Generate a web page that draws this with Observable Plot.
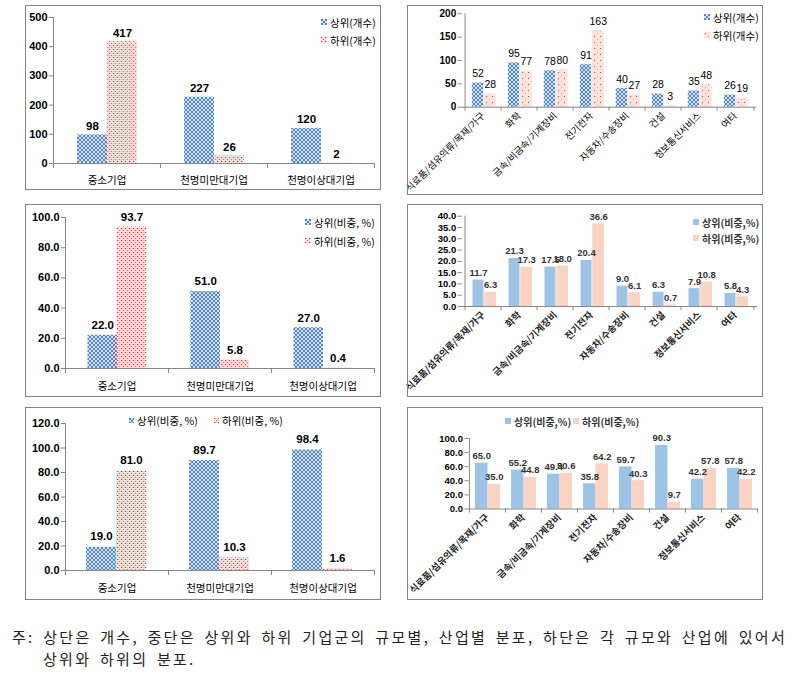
<!DOCTYPE html>
<html><head><meta charset="utf-8">
<script src="https://cdn.jsdelivr.net/npm/d3@7"></script>
<script src="https://cdn.jsdelivr.net/npm/@observablehq/plot@0.6"></script>
<style>
body{margin:0;background:#fff;}
#root{position:relative;width:803px;height:687px;overflow:hidden;font-family:"Liberation Sans","Noto Sans CJK KR",sans-serif;}
.frame{position:absolute;border:1.5px solid #838383;box-sizing:border-box;pointer-events:none;}
.panel{position:absolute;}
.lg{position:absolute;display:flex;align-items:center;height:16px;white-space:nowrap;font-family:"Noto Sans CJK KR",sans-serif;}
.lg svg{flex:none;}
.cap{position:absolute;font-family:"Noto Sans CJK KR",sans-serif;font-size:15px;color:#222;letter-spacing:2.3px;word-spacing:3px;white-space:nowrap;line-height:22px;}
</style></head>
<body>
<svg width="0" height="0" style="position:absolute">
<defs>
<pattern id="patBlue" width="4" height="4" patternUnits="userSpaceOnUse">
<rect width="4" height="4" fill="#D3E1F3"/>
<rect x="0" y="0" width="2" height="2" fill="#5286C4"/>
<rect x="2" y="2" width="2" height="2" fill="#5286C4"/>
</pattern>
<pattern id="patRed" width="4" height="4" patternUnits="userSpaceOnUse">
<rect width="4" height="4" fill="#FDE2DE"/>
<rect x="0" y="0" width="1" height="1" fill="#FF1A1A"/>
<rect x="1" y="0" width="1" height="1" fill="#FBB8B8"/>
<rect x="2" y="2" width="1" height="1" fill="#FF5050"/>
<rect x="3" y="2" width="1" height="1" fill="#FCC4C4"/>
</pattern>
<pattern id="patPink" width="6" height="6" patternUnits="userSpaceOnUse">
<rect width="6" height="6" fill="#FDE3DA"/>
<rect x="1" y="1" width="1" height="1" fill="#F03A3A"/>
<rect x="4" y="4" width="1" height="1" fill="#F7A0A0"/>
</pattern>
</defs></svg>
<div id="root"></div>
<script>
// ---- data ----
const sizeCats = ["중소기업", "천명미만대기업", "천명이상대기업"];
const indCats = ["식료품/섬유의류/목재/가구", "화학", "금속/비금속/기계장비", "전기전자", "자동차/수송장비", "건설", "정보통신서비스", "여타"];

const sizeCountTop = [98, 227, 120];
const sizeCountBottom = [417, 26, 2];
const indCountTop = [52, 95, 78, 91, 40, 28, 35, 26];
const indCountBottom = [28, 77, 80, 163, 27, 3, 48, 19];

const sizeShareTop = [22.0, 51.0, 27.0];
const sizeShareBottom = [93.7, 5.8, 0.4];
const indShareTop = [11.7, 21.3, 17.5, 20.4, 9.0, 6.3, 7.9, 5.8];
const indShareBottom = [6.3, 17.3, 18.0, 36.6, 6.1, 0.7, 10.8, 4.3];

const sizeWithinTop = [19.0, 89.7, 98.4];
const sizeWithinBottom = [81.0, 10.3, 1.6];
const indWithinTop = [65.0, 55.2, 49.4, 35.8, 59.7, 90.3, 42.2, 57.8];
const indWithinBottom = [35.0, 44.8, 50.6, 64.2, 40.3, 9.7, 57.8, 42.2];

const ticksCount1 = [0, 100, 200, 300, 400, 500];
const ticksCount2 = [0, 50, 100, 150, 200];
const ticksShare1 = [0, 20, 40, 60, 80, 100];
const ticksShare2 = [0, 5, 10, 15, 20, 25, 30, 35, 40];
const ticksShare3 = [0, 20, 40, 60, 80, 100, 120];
const ticksShare4 = [0, 20, 40, 60, 80, 100];

const legCount = ["상위(개수)", "하위(개수)"];
const legShare = ["상위(비중, %)", "하위(비중, %)"];
const legShare2 = ["상위(비중,%)", "하위(비중,%)"];
const captionLines = ["주: 상단은 개수, 중단은 상위와 하위 기업군의 규모별, 산업별 분포, 하단은 각 규모와 산업에 있어서", "상위와 하위의 분포."];

// ---- helpers ----
const root = document.getElementById("root");
const NUMFONT = '"Liberation Sans","Noto Sans CJK KR",sans-serif';
const f1 = d => d.toFixed(1);
const f0 = d => String(d);
const BLUEP = "url(#patBlue)", REDP = "url(#patRed)", PINKP = "url(#patPink)";
const SBLUE = "#9DC3E6", SPEACH = "#FAD4C2";
const AX = "#868686";

function panel(o) {
  const n = o.cats.length;
  const bw = (o.W - o.mL - o.mR) / n;
  const rows = o.cats.map((c, i) => ({cat: c, a: o.a[i], b: o.b[i]}));
  const cA = (o.insA[0] + bw - o.insA[1]) / 2 - bw / 2;
  const cB = (o.insB[0] + bw - o.insB[1]) / 2 - bw / 2;
  const plot = Plot.plot({
    width: o.W, height: o.H,
    marginLeft: o.mL, marginRight: o.mR, marginTop: o.mT, marginBottom: o.mB,
    style: {fontFamily: NUMFONT, fontSize: "10px", background: "transparent", overflow: "visible", color: "#000"},
    x: {type: "band", domain: o.cats, padding: 0, label: null},
    y: {domain: o.yDomain, label: null},
    marks: [
      Plot.barY(rows, {x: "cat", y: "a", fill: o.fillA, insetLeft: o.insA[0], insetRight: o.insA[1]}),
      Plot.barY(rows, {x: "cat", y: "b", fill: o.fillB, insetLeft: o.insB[0], insetRight: o.insB[1]}),
      Plot.ruleY([0], {stroke: AX}),
      Plot.ruleX([o.cats[0]], {x: d => d, dx: -bw / 2, stroke: AX}),
      Plot.ruleX(o.cats, {x: d => d, y1: 0, y2: 0, dx: -bw / 2, insetBottom: -o.tick, stroke: AX}),
      Plot.ruleX([o.cats[n - 1]], {x: d => d, y1: 0, y2: 0, dx: bw / 2, insetBottom: -o.tick, stroke: AX}),
      Plot.axisY({ticks: o.ticks, tickFormat: o.yFmt, tickSize: 4, tickPadding: 2, stroke: AX, fill: "#000", fontSize: o.yFont, fontWeight: "bold", label: null}),
      Plot.axisX({tickSize: 0, tickPadding: o.xPad, tickRotate: o.rotate || 0, fontSize: o.xFont, fontWeight: o.xWeight, fill: o.xColor || "#000", fontFamily: '"Noto Sans CJK KR",sans-serif', label: null}),
      Plot.text(rows, {x: "cat", y: "a", text: d => o.vFmt(d.a), dx: cA, dy: -o.vDy, lineAnchor: "bottom", fontSize: o.vFont, fontWeight: o.vWeight, fill: o.vColor}),
      Plot.text(rows, {x: "cat", y: "b", text: d => o.vFmt(d.b), dx: cB, dy: -o.vDy, lineAnchor: "bottom", fontSize: o.vFont, fontWeight: o.vWeight, fill: o.vColor})
    ]
  });
  const wrap = document.createElement("div");
  wrap.className = "panel";
  wrap.style.left = o.left + "px"; wrap.style.top = o.top + "px";
  wrap.style.width = o.W + "px"; wrap.style.height = o.H + "px";
  wrap.appendChild(plot);
  root.appendChild(wrap);
  const fr = document.createElement("div");
  fr.className = "frame";
  fr.style.left = o.left + "px"; fr.style.top = o.top + "px";
  fr.style.width = o.W + "px"; fr.style.height = o.H + "px";
  root.appendChild(fr);
}

function legend(x, yc, fill, label, opt) {
  const d = document.createElement("div");
  d.className = "lg";
  d.style.left = x + "px"; d.style.top = (yc - 8) + "px";
  d.style.fontSize = opt.size + "px";
  d.style.fontWeight = opt.weight || "normal";
  d.style.color = opt.color || "#000";
  const s = opt.m || 6;
  d.innerHTML = `<svg width="${s}" height="${s}" style="margin-right:${opt.gap || 3}px"><rect width="${s}" height="${s}" fill="${fill}"/></svg><span>${label}</span>`;
  root.appendChild(d);
}

// ---- top-left: counts by size ----
panel({left: 25, top: 5, W: 356, H: 185, mL: 28, mR: 7, mT: 12, mB: 27,
  cats: sizeCats, a: sizeCountTop, b: sizeCountBottom, yDomain: [0, 500], ticks: ticksCount1, yFmt: f0,
  fillA: BLUEP, fillB: REDP, insA: [24, 53], insB: [54, 23], tick: 5,
  yFont: 11, xFont: 10.5, xWeight: "normal", xPad: 13,
  vFmt: f0, vFont: 11.5, vWeight: "bold", vDy: 5, vColor: "#000"});
legend(321, 22, BLUEP, legCount[0], {size: 10.5});
legend(321, 40, REDP, legCount[1], {size: 10.5});

// ---- top-right: counts by industry ----
panel({left: 407, top: 5, W: 356, H: 190, mL: 54.7, mR: 7, mT: 8.3, mB: 88.3,
  cats: indCats, a: indCountTop, b: indCountBottom, yDomain: [0, 200], ticks: ticksCount2, yFmt: f0,
  fillA: BLUEP, fillB: PINKP, insA: [6.8, 17.8], insB: [19, 5.5], tick: 4,
  yFont: 10, xFont: 9.5, xWeight: "normal", xPad: 7, rotate: -45,
  vFmt: f0, vFont: 10.5, vWeight: "normal", vDy: 6, vColor: "#000"});
legend(704, 17, BLUEP, legCount[0], {size: 10.5});
legend(704, 35, PINKP, legCount[1], {size: 10.5});

// ---- middle-left: shares by size ----
panel({left: 25, top: 204, W: 356, H: 193, mL: 40, mR: 7, mT: 13, mB: 29,
  cats: sizeCats, a: sizeShareTop, b: sizeShareBottom, yDomain: [0, 100], ticks: ticksShare1, yFmt: f1,
  fillA: BLUEP, fillB: REDP, insA: [22.5, 51], insB: [52, 22], tick: 5,
  yFont: 11, xFont: 10.5, xWeight: "normal", xPad: 14,
  vFmt: f1, vFont: 11.5, vWeight: "bold", vDy: 6, vColor: "#000"});
legend(305, 222, BLUEP, legShare[0], {size: 10.5});
legend(305, 241, REDP, legShare[1], {size: 10.5});

// ---- middle-right: shares by industry ----
panel({left: 407, top: 204, W: 356, H: 193, mL: 54.7, mR: 6, mT: 11.7, mB: 91,
  cats: indCats, a: indShareTop, b: indShareBottom, yDomain: [0, 40], ticks: ticksShare2, yFmt: f1,
  fillA: SBLUE, fillB: SPEACH, insA: [7.5, 17.5], insB: [19.3, 5], tick: 4,
  yFont: 9.5, xFont: 9.5, xWeight: "bold", xPad: 7, rotate: -45, xColor: "#222",
  vFmt: f1, vFont: 9.5, vWeight: "bold", vDy: 4, vColor: "#333"});
legend(693, 222, SBLUE, legShare2[0], {size: 10, weight: "bold", color: "#333"});
legend(693, 238, SPEACH, legShare2[1], {size: 10, weight: "bold", color: "#333"});

// ---- bottom-left: within-size distribution ----
panel({left: 25, top: 407, W: 356, H: 193, mL: 40, mR: 7, mT: 16, mB: 30,
  cats: sizeCats, a: sizeWithinTop, b: sizeWithinBottom, yDomain: [0, 120], ticks: ticksShare3, yFmt: f1,
  fillA: BLUEP, fillB: REDP, insA: [21, 52], insB: [51, 22], tick: 5,
  yFont: 11, xFont: 10.5, xWeight: "normal", xPad: 14,
  vFmt: f1, vFont: 11.5, vWeight: "bold", vDy: 7, vColor: "#000"});
legend(129, 420, BLUEP, legShare[0], {size: 10.5, m: 5});
legend(214, 420, REDP, legShare[1], {size: 10.5, m: 5});

// ---- bottom-right: within-industry distribution ----
panel({left: 407, top: 407, W: 356, H: 193, mL: 61.5, mR: 5, mT: 31, mB: 91.5,
  cats: indCats, a: indWithinTop, b: indWithinBottom, yDomain: [0, 100], ticks: ticksShare4, yFmt: f1,
  fillA: SBLUE, fillB: SPEACH, insA: [6, 17.5], insB: [18.5, 5], tick: 4,
  yFont: 9.5, xFont: 9.5, xWeight: "bold", xPad: 7, rotate: -45, xColor: "#222",
  vFmt: f1, vFont: 9.5, vWeight: "bold", vDy: 4, vColor: "#333"});
legend(505, 421, SBLUE, legShare2[0], {size: 10, weight: "bold", color: "#333"});
legend(573, 421, SPEACH, legShare2[1], {size: 10, weight: "bold", color: "#333"});

// ---- caption ----
captionLines.forEach((t, i) => {
  const c = document.createElement("div");
  c.className = "cap";
  c.style.left = (i === 0 ? 12 : 43) + "px";
  c.style.top = (626 + i * 22) + "px";
  c.textContent = t;
  root.appendChild(c);
});
</script>
</body></html>
